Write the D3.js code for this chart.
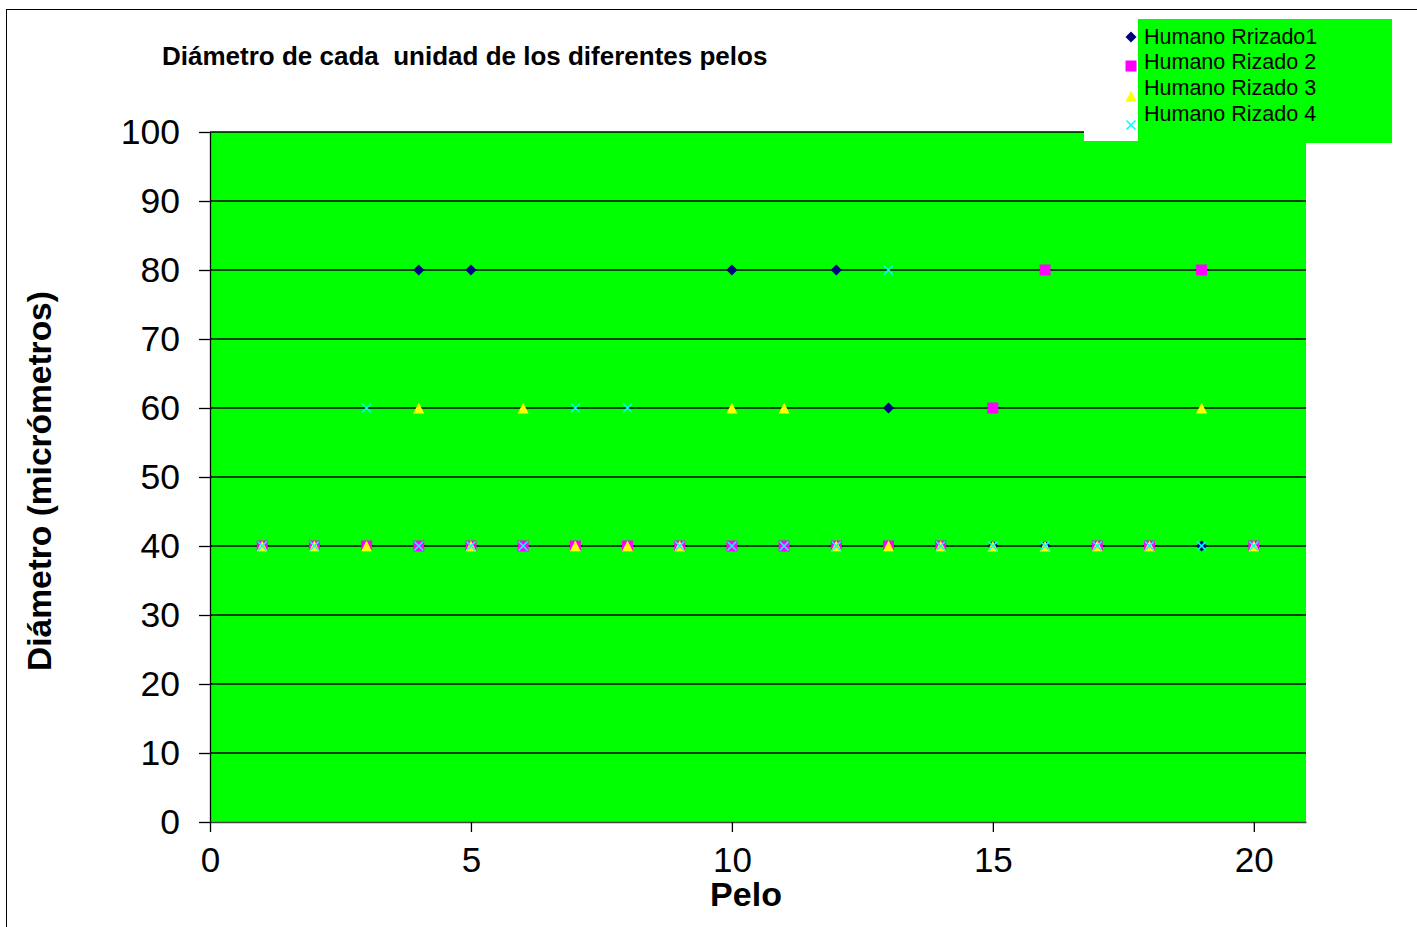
<!DOCTYPE html>
<html>
<head>
<meta charset="utf-8">
<script src="https://cdn.jsdelivr.net/npm/d3@7"></script>
<style>
  html, body { margin: 0; padding: 0; background: #fff; }
  svg { display: block; }
  text { font-family: "Liberation Sans", Arial, sans-serif; white-space: pre; }
</style>
</head>
<body>
<svg id="chart" width="1417" height="927"></svg>
<script>
// Pelo number (1..20) for every series
const pelos = d3.range(1, 21);

// Diameter (µm) of each hair, per series
const rizado1 = [40, 40, 40, 80, 80, 40, 40, 40, 40, 80, 40, 80, 60, 40, 40, 40, 40, 40, 40, 40];
const rizado2 = [40, 40, 40, 40, 40, 40, 40, 40, 40, 40, 40, 40, 40, 40, 60, 80, 40, 40, 80, 40];
const rizado3 = [40, 40, 40, 60, 40, 60, 40, 40, 40, 60, 60, 40, 40, 40, 40, 40, 40, 40, 60, 40];
const rizado4 = [40, 40, 60, 40, 40, 40, 60, 60, 40, 40, 40, 40, 80, 40, 40, 40, 40, 40, 40, 40];

const seriesNames = ["Humano Rrizado1", "Humano Rizado 2", "Humano Rizado 3", "Humano Rizado 4"];
const seriesValues = [rizado1, rizado2, rizado3, rizado4];

const yTicks = [0, 10, 20, 30, 40, 50, 60, 70, 80, 90, 100];
const xTicks = [0, 5, 10, 15, 20];

const svg = d3.select("#chart");
const plot = { left: 210, right: 1306, top: 132, bottom: 822 };

const x = d3.scaleLinear().domain([0, 21]).range([plot.left, plot.right]);
const y = d3.scaleLinear().domain([0, 100]).range([plot.bottom, plot.top]);

// Outer chart frame
svg.append("rect")
  .attr("x", 6.5).attr("y", 9.5)
  .attr("width", 1430).attr("height", 940)
  .attr("fill", "#fff").attr("stroke", "#000").attr("stroke-width", 1);

// Plot background
svg.append("rect")
  .attr("x", plot.left).attr("y", plot.top)
  .attr("width", plot.right - plot.left).attr("height", plot.bottom - plot.top)
  .attr("fill", "#00ff00");

// Horizontal gridlines
svg.append("g")
  .selectAll("line")
  .data(yTicks.filter(d => d > 0))
  .join("line")
  .attr("x1", plot.left).attr("x2", plot.right)
  .attr("y1", d => y(d)).attr("y2", d => y(d))
  .attr("stroke", "#000").attr("stroke-width", 1.3);

// Y axis
const yAxis = svg.append("g")
  .attr("transform", `translate(${plot.left},0)`)
  .call(d3.axisLeft(y).tickValues(yTicks).tickSize(11).tickPadding(19).tickSizeOuter(0));
yAxis.select(".domain").attr("stroke", "#000").attr("stroke-width", 1.3);
yAxis.selectAll(".tick line").attr("stroke", "#000").attr("stroke-width", 1.3);
yAxis.selectAll(".tick text")
  .attr("font-size", 35.5).attr("fill", "#000")
  .style("font-family", "'Liberation Sans', Arial, sans-serif");

// X axis
const xAxis = svg.append("g")
  .attr("transform", `translate(0,${plot.bottom})`)
  .call(d3.axisBottom(x).tickValues(xTicks).tickSize(10).tickPadding(15).tickSizeOuter(0));
xAxis.select(".domain").attr("stroke", "#444").attr("stroke-width", 1.3);
xAxis.selectAll(".tick line").attr("stroke", "#000").attr("stroke-width", 1.3);
xAxis.selectAll(".tick text")
  .attr("font-size", 35).attr("fill", "#000")
  .style("font-family", "'Liberation Sans', Arial, sans-serif");

// Markers
const colors = ["#000080", "#ff00ff", "#ffff00", "#00ffff"];
function drawMarker(g, i) {
  if (i === 0) {
    g.append("path").attr("d", "M0,-5.5L5.5,0L0,5.5L-5.5,0Z").attr("fill", colors[0]);
  } else if (i === 1) {
    g.append("rect").attr("x", -5.5).attr("y", -5.5).attr("width", 11).attr("height", 11).attr("fill", colors[1]);
  } else if (i === 2) {
    g.append("path").attr("d", "M0,-5.5L5.5,5.5L-5.5,5.5Z").attr("fill", colors[2]);
  } else {
    g.append("path").attr("d", "M-4.5,-4.5L4.5,4.5M-4.5,4.5L4.5,-4.5")
      .attr("stroke", colors[3]).attr("stroke-width", 1.6).attr("fill", "none");
  }
}

seriesValues.forEach((vals, i) => {
  const g = svg.append("g");
  g.selectAll("g")
    .data(pelos.map((p, k) => ({ p, v: vals[k] })))
    .join("g")
    .attr("transform", d => `translate(${x(d.p)},${y(d.v)})`)
    .each(function () { drawMarker(d3.select(this), i); });
});

// Title
svg.append("text")
  .attr("x", 162).attr("y", 65)
  .attr("font-size", 26).attr("font-weight", "bold").attr("fill", "#000")
  .text("Diámetro de cada  unidad de los diferentes pelos");

// Axis titles
svg.append("text")
  .attr("x", 746).attr("y", 906)
  .attr("text-anchor", "middle")
  .attr("font-size", 34).attr("font-weight", "bold").attr("fill", "#000")
  .text("Pelo");

svg.append("text")
  .attr("transform", `translate(51,481) rotate(-90)`)
  .attr("text-anchor", "middle")
  .attr("font-size", 33.5).attr("font-weight", "bold").attr("fill", "#000")
  .text("Diámetro (micrómetros)");

// Legend
const legend = svg.append("g");
legend.append("rect")
  .attr("x", 1084).attr("y", 19).attr("width", 54).attr("height", 122)
  .attr("fill", "#fff");
legend.append("rect")
  .attr("x", 1138).attr("y", 19).attr("width", 254).attr("height", 124)
  .attr("fill", "#00ff00");
const legendY = [37, 66, 96, 125];
const textY = [44, 69, 95, 121];
seriesNames.forEach((name, i) => {
  const mg = legend.append("g").attr("transform", `translate(1131,${legendY[i]})`);
  drawMarker(mg, i);
  legend.append("text")
    .attr("x", 1144).attr("y", textY[i])
    .attr("font-size", 21.5).attr("fill", "#000")
    .text(name);
});
</script>
</body>
</html>
